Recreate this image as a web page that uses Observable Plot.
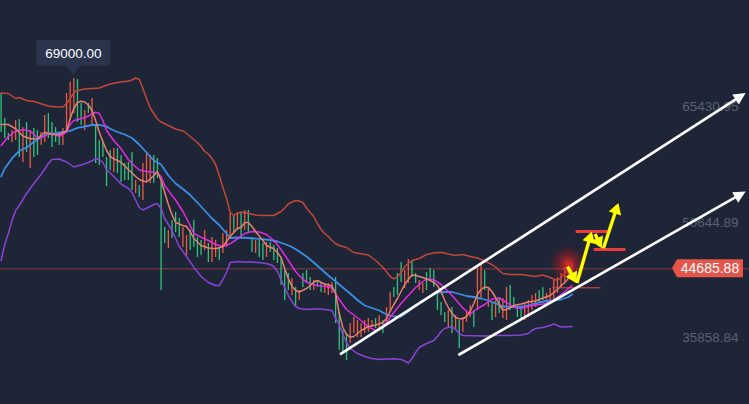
<!DOCTYPE html>
<html><head><meta charset="utf-8">
<script src="https://cdn.jsdelivr.net/npm/d3@7"></script>
<script src="https://cdn.jsdelivr.net/npm/@observablehq/plot@0.6"></script>
<style>
html,body{margin:0;padding:0;background:#1e2537;}
#chart{width:749px;height:404px;overflow:hidden;}
</style></head><body><div id="chart"></div>
<script>
// ---- Daily candles (day 0 = 2021-10-21), high / low / direction (1 = up, red; -1 = down, green)
const candleHigh = [
67080,63887,61972,62355,63632,63760,62738,63377,62355,62610,
62355,62100,64270,64526,63377,62738,62100,62610,67080,68485,
69000,68868,65803,64909,65803,66441,62993,61078,60823,58907,
59801,60056,60056,59163,58141,58269,59546,55970,55331,58141,
59418,59163,59163,58780,55715,49968,49585,50862,51884,51117,
49968,48946,49585,50862,48691,48308,49585,47925,48691,48308,
47414,49202,49585,51756,51501,51756,51756,52139,52139,48691,
48308,48308,47925,48053,48053,47670,47286,46137,44477,44094,
43455,42306,41923,44094,44477,43583,43200,43200,42945,42817,
42817,42945,43583,39114,36815,36432,37709,38476,38092,37709,
38092,38348,38092,38348,38731,38092,39752,41668,42306,44094,
45499,44477,45882,45754,44094,43200,42817,44222,44732,44477,
41923,40391,39114,39369,39752,38731,38092,38476,39369,40008,
39369,44860,45371,44477,42306,40263,40646,41030,40902,42306,
42561,41030,39752,39752,40263,40646,41285,41540,41923,42306,
41540,42178,43200,43583,44094,44860,45116,45371];
const candleLow = [
62100,61333,61078,60823,61078,58907,58269,59546,57502,58907,
59163,60439,60823,61333,60184,60823,60439,60439,62100,63632,
64526,63377,62993,62355,64526,62993,58141,57886,58907,55204,
57247,56992,56864,55715,55970,55970,54693,54310,53799,53416,
55715,55587,55587,56225,41923,47925,47286,48563,49330,48691,
47414,46392,47031,47414,46137,46392,47031,45499,45499,46137,
45754,46648,47414,48563,49330,49585,48691,49585,49202,46776,
46648,46137,45754,46137,46776,45754,45371,42561,40646,41923,
41285,39752,40646,42306,42817,41923,41923,42306,41668,41540,
41285,41540,37709,34261,33878,32984,35155,36432,35921,35921,
36432,36560,37198,37070,36815,36432,37709,39114,41030,41285,
42945,42178,42817,43583,42817,41923,41540,41923,43200,42306,
39369,38731,37837,37198,36432,36815,34517,36560,37837,38476,
37198,39369,40902,41923,39752,38092,38476,38986,38348,38092,
39369,39752,38476,38348,38092,38476,39369,39752,40391,40646,
40391,40646,40391,41540,42306,42945,43583,44094];
const candleDir = [
-1,-1,-1,1,1,-1,1,-1,1,-1,
-1,1,1,-1,-1,-1,-1,1,1,1,
1,-1,-1,1,-1,1,-1,-1,-1,-1,
-1,1,-1,-1,-1,-1,-1,1,-1,1,
1,1,-1,-1,-1,-1,1,-1,-1,-1,
1,1,-1,-1,-1,-1,1,-1,1,1,
-1,1,1,1,-1,1,-1,1,-1,-1,
1,-1,-1,1,-1,-1,-1,-1,-1,-1,
1,-1,1,-1,-1,-1,1,-1,-1,1,
1,1,-1,-1,-1,-1,1,1,1,1,
1,1,1,-1,1,-1,1,1,-1,-1,
-1,1,1,-1,-1,1,1,-1,-1,-1,
-1,-1,-1,1,-1,1,-1,1,1,1,
-1,1,1,-1,1,-1,1,-1,1,1,
-1,-1,-1,-1,1,1,1,1,-1,-1,
1,1,1,1,1,1,1,1];

// ---- Bollinger upper band
const upperDays = [0,2,4,5,7,9,11,13,15,17,18,19,20,21,23,25,27,28,30,32,
34,35,36,37,38,39,40,41,42,43,44,46,48,50,51,52,53,54,55,56,
57,58,59,60,61,62,63,64,65,66,68,70,72,75,77,78,79,80,81,82,
83,84,85,86,87,88,89,90,91,92,93,95,97,99,101,103,105,107,108,109,
110,111,113,115,117,119,121,123,125,127,129,131,133,135,136,137,138,140,143,145,
147,149,151,153,154,155,156,157];
const upperVals = [67144,67080,66441,66569,66186,66058,65765,65484,65356,65356,65803,66377,67208,67463,67655,67718,67782,67974,68293,68485,
68612,68676,68804,69059,68868,67718,66441,65228,64526,63824,63441,62993,62546,62291,61972,61589,61206,60823,60312,59673,
59354,58780,58013,56608,55076,53671,51884,51501,51820,51948,51756,51565,51501,51501,52012,52459,52970,53225,53416,53353,
53161,52459,51884,51373,50479,49713,49202,48819,48308,47925,47670,47414,46776,46610,46456,45754,44898,43711,43417,43647,
44222,44988,45754,46009,46520,46712,46814,46584,46392,46520,46265,46073,45690,45244,44924,44477,44094,43967,43967,43838,
43711,43902,43583,43200,43583,44094,44541,45116];

// ---- Bollinger lower band
const lowerDays = [0,1,2,3,4,5,7,9,11,13,14,16,18,20,22,24,26,27,28,29,
31,33,35,36,38,39,41,42,43,44,45,47,49,51,53,55,57,59,60,61,
62,63,65,67,69,72,74,75,76,77,78,79,80,81,82,84,86,88,90,91,
92,93,94,95,96,98,100,102,104,106,108,110,111,112,113,114,115,117,119,120,
121,122,123,124,125,126,127,130,133,136,140,143,145,146,147,149,151,152,153,154,157];
const lowerVals = [45754,47797,49202,50862,52139,52778,54310,55587,56736,58141,58652,58716,58333,57694,57950,58269,58716,58652,58269,57375,
56481,55523,54949,54438,52522,52203,52650,52906,52995,52395,51117,49585,47542,46265,44898,43711,42945,42561,42561,43328,
44222,45499,45627,45563,45563,45435,45244,44988,44350,43328,42306,41285,40519,39880,39625,39497,39561,39561,39433,39369,
38348,37582,36305,35283,34517,33878,33495,33240,33112,33176,33202,33112,32920,32665,33240,34006,34645,35155,35538,36049,
36688,37070,37198,37326,36943,36432,36177,36139,36113,36177,36177,36241,36432,36815,37070,37198,37454,37667,37454,37263,37326];

// ---- Middle band (blue)
const midDays = [0,1,3,5,7,9,11,13,15,17,19,21,23,25,27,29,30,32,34,36,
38,40,42,44,46,48,50,52,54,56,58,60,62,63,65,68,71,74,76,78,
80,82,84,86,88,90,92,94,96,98,100,102,104,106,108,110,112,114,116,118,
120,122,124,126,128,130,132,134,136,138,141,144,146,148,150,152,154,156,157];
const midVals = [56481,57502,58780,59737,60184,60886,61461,61972,62010,62163,62316,62699,62866,63057,63083,62866,62572,62163,61844,61397,
60567,59546,58524,58013,56608,55587,54885,54118,53160,52139,51117,50287,49202,48627,48691,48627,48525,48372,48180,47861,
47478,46903,46265,45499,44668,43838,43072,42306,41540,40710,40008,39688,39369,38859,38603,38603,39241,40008,40646,41157,
41668,41732,41732,41476,41221,41093,40902,40646,40263,39880,39816,39880,40135,40391,40582,40646,40774,41093,41412];

// ---- MA10 (magenta)
const ma10Days = [0,2,4,6,8,10,12,13,14,16,18,19,20,22,24,26,27,28,29,31,
33,35,36,38,40,42,43,44,45,47,48,50,52,53,55,57,59,61,63,65,
67,69,71,73,75,77,79,81,83,85,87,89,91,93,95,97,99,101,103,104,
106,108,110,112,114,116,117,119,121,123,125,127,129,131,133,135,137,139,141,143,
146,148,150,152,154,156,157];
const ma10Vals = [60439,61589,62266,62444,62291,61461,61589,61972,61972,61589,62138,63121,63632,63849,64207,64692,64526,63632,62355,61078,
60018,58652,58141,57311,57119,57030,56928,56481,55331,54054,53480,52012,50223,49202,48730,48308,47797,47542,47886,48525,
49202,49457,49394,49074,48308,47159,45754,44350,43328,42753,42561,42459,42242,40774,39497,38795,38092,37262,36815,36943,
37837,39114,40263,41285,42306,43072,43391,43289,42689,41796,40774,39688,38922,39625,40135,40838,40966,40391,39752,39625,
40008,40135,40263,40710,41412,42178,42561];

// ---- MA5 (salmon)
const ma5Days = [0,2,4,6,8,10,12,14,16,18,19,20,21,22,23,24,25,26,27,28,
29,30,31,33,35,37,38,39,40,41,42,43,44,45,46,47,48,50,51,52,
53,55,57,59,61,62,63,65,66,67,68,69,70,72,73,75,76,77,78,79,
80,81,82,84,85,86,87,89,91,92,93,94,95,96,97,99,101,103,105,106,
107,108,109,110,111,112,113,114,116,118,119,120,121,122,123,124,125,126,127,128,
129,130,131,132,133,134,135,136,137,138,139,141,143,145,147,149,151,153,155,156,157];
const ma5Vals = [63121,63121,62572,61653,61295,61295,62138,61844,61844,62291,63887,65164,65931,66097,65995,65612,64909,63632,62138,60950,
59801,59035,58741,58307,57375,56481,56098,55906,55778,56161,56608,57119,55970,54438,52906,51628,50607,50223,50096,49457,
48563,47670,47350,47248,47542,48180,48819,49840,49968,50607,50607,50096,49457,48308,47670,47248,46776,46137,44732,43455,
42434,41923,41732,42178,42561,43008,43200,42753,42498,41540,38986,37198,36305,35960,36049,36815,37326,37518,37837,38348,
39241,40135,40902,41796,42689,43328,43902,43838,43583,43200,42945,42561,41796,40646,39752,39050,38476,38310,38310,38603,
39241,40263,41412,42051,42370,42306,41796,41030,40135,39433,39497,40008,40200,40455,40582,40966,41285,42051,42945,43455,44477];

// ---- Labels and annotations
const axisPrices = [65430.95, 50644.89, 35858.84];
const lastPrice = 44685.88;
const athDay = 20, athPrice = 69000;
const trendDay1 = [93.35, 125.9], trendPrice1 = [33712, 33622];
const trendDay2 = [204.9, 204.9], trendPrice2 = [67080, 54502];
const yellowDay1 = [155.9, 158.5, 163.5, 165.8], yellowPrice1 = [44900, 42817, 49075, 47248];
const yellowDay2 = [158.4, 162.6, 165.3, 169.9], yellowPrice2 = [42780, 49393, 47248, 53033];
const levelDay1 = [158.0, 163.0], levelDay2 = [167.4, 171.7], levelPrice = [49457, 47159];
const supportDay1 = [151.6], supportDay2 = [164.85], supportPrice = [42267];
const glowDay = 156.05, glowPrice = 45243;

const RED = "#ef5a44", GREEN = "#2fc47c";
const candles = candleHigh.map((h, i) => ({day: i, high: h, low: candleLow[i], dir: candleDir[i]}));

function arrows(d1, p1, d2, p2, color, w, headLen, headHalf) {
  return (index, scales) => {
    const g = d3.create("svg:g");
    for (let i = 0; i < d1.length; i++) {
      const x1 = scales.x(d1[i]), y1 = scales.y(p1[i]), x2 = scales.x(d2[i]), y2 = scales.y(p2[i]);
      const a = Math.atan2(y2 - y1, x2 - x1), c = Math.cos(a), s = Math.sin(a);
      const bx = x2 - headLen * c, by = y2 - headLen * s;
      g.append("line").attr("x1", x1).attr("y1", y1).attr("x2", bx + 2 * c).attr("y2", by + 2 * s)
        .attr("stroke", color).attr("stroke-width", w).attr("stroke-linecap", "butt");
      g.append("path").attr("d", `M${x2},${y2}L${bx - headHalf * s},${by + headHalf * c}L${bx + headHalf * s},${by - headHalf * c}Z`)
        .attr("fill", color);
    }
    return g.node();
  };
}

const chart = Plot.plot({
  width: 749, height: 404, margin: 0,
  style: {background: "#1e2537", fontFamily: "'Liberation Sans', Arial, sans-serif"},
  x: {domain: [-0.165, 205.83], axis: null},
  y: {domain: [27365, 78956], axis: null},
  marks: [
    Plot.ruleY([lastPrice], {stroke: "#e8574b", strokeOpacity: 0.5, strokeWidth: 1}),
    Plot.text(axisPrices, {x: () => 205.83, y: d => d, text: d => d.toFixed(2), textAnchor: "end", dx: -11,
      fill: "#5a6272", fontSize: 13.5}),
    Plot.ruleX(candles.filter(d => d.dir > 0), {x: "day", y1: "low", y2: "high", stroke: RED, strokeWidth: 1.3}),
    Plot.ruleX(candles.filter(d => d.dir < 0), {x: "day", y1: "low", y2: "high", stroke: GREEN, strokeWidth: 1.3}),
    Plot.line(upperVals, {x: upperDays, y: upperVals, stroke: "#c4473a", strokeWidth: 1.5}),
    Plot.line(lowerVals, {x: lowerDays, y: lowerVals, stroke: "#8a43d6", strokeWidth: 1.5}),
    Plot.line(midVals, {x: midDays, y: midVals, stroke: "#3a8ee6", strokeWidth: 1.8}),
    Plot.line(ma10Vals, {x: ma10Days, y: ma10Vals, stroke: "#e22be2", strokeWidth: 1.5}),
    Plot.line(ma5Vals, {x: ma5Days, y: ma5Vals, stroke: "#e5806e", strokeWidth: 1.5}),
    Plot.link(supportPrice, {x1: supportDay1, x2: supportDay2, y1: supportPrice, y2: supportPrice, stroke: "#e84848", strokeWidth: 1}),
    arrows(trendDay1, trendPrice1, trendDay2, trendPrice2, "#ffffff", 2.6, 12, 6),
    Plot.link(levelPrice, {x1: levelDay1, x2: levelDay2, y1: levelPrice, y2: levelPrice, stroke: "#f03c3c", strokeWidth: 3}),
    (index, scales) => {
      const g = d3.create("svg:g");
      const grad = g.append("defs").append("radialGradient").attr("id", "glow");
      grad.append("stop").attr("offset", "0%").attr("stop-color", "#ff2a2a").attr("stop-opacity", 0.85);
      grad.append("stop").attr("offset", "45%").attr("stop-color", "#e01e1e").attr("stop-opacity", 0.4);
      grad.append("stop").attr("offset", "100%").attr("stop-color", "#c01010").attr("stop-opacity", 0);
      g.append("circle").attr("cx", scales.x(glowDay)).attr("cy", scales.y(glowPrice)).attr("r", 19).attr("fill", "url(#glow)");
      return g.node();
    },
    arrows(yellowDay1, yellowPrice1, yellowDay2, yellowPrice2, "#ffff00", 3.4, 11, 6.5),
    (index, scales, values, dims) => {
      const g = d3.create("svg:g");
      const y = scales.y(lastPrice), r = dims.width - 6, l = r - 66;
      g.append("path").attr("d", `M${l - 5},${y}L${l},${y - 9}L${r},${y - 9}L${r},${y + 9}L${l},${y + 9}Z`).attr("fill", "#e5554a");
      g.append("text").attr("x", (l + r) / 2).attr("y", y).attr("dy", "0.36em").attr("text-anchor", "middle")
        .attr("fill", "#ffffff").attr("font-size", 14).text(lastPrice.toFixed(2));
      return g.node();
    },
    (index, scales) => {
      const g = d3.create("svg:g");
      const x = scales.x(athDay), y = scales.y(athPrice);
      const bottom = y - 12.5, top = bottom - 25.5;
      g.append("path").attr("d", `M${x - 8},${bottom - 1}L${x},${y - 3}L${x + 8},${bottom - 1}Z`).attr("fill", "#2a344d");
      g.append("rect").attr("x", x - 37).attr("y", top).attr("width", 74).attr("height", bottom - top).attr("rx", 2).attr("fill", "#2a344d");
      g.append("text").attr("x", x).attr("y", (top + bottom) / 2).attr("dy", "0.36em").attr("text-anchor", "middle")
        .attr("fill", "#ffffff").attr("font-size", 13.5).text(athPrice.toFixed(2));
      return g.node();
    }
  ]
});
document.getElementById("chart").append(chart);
</script></body></html>
